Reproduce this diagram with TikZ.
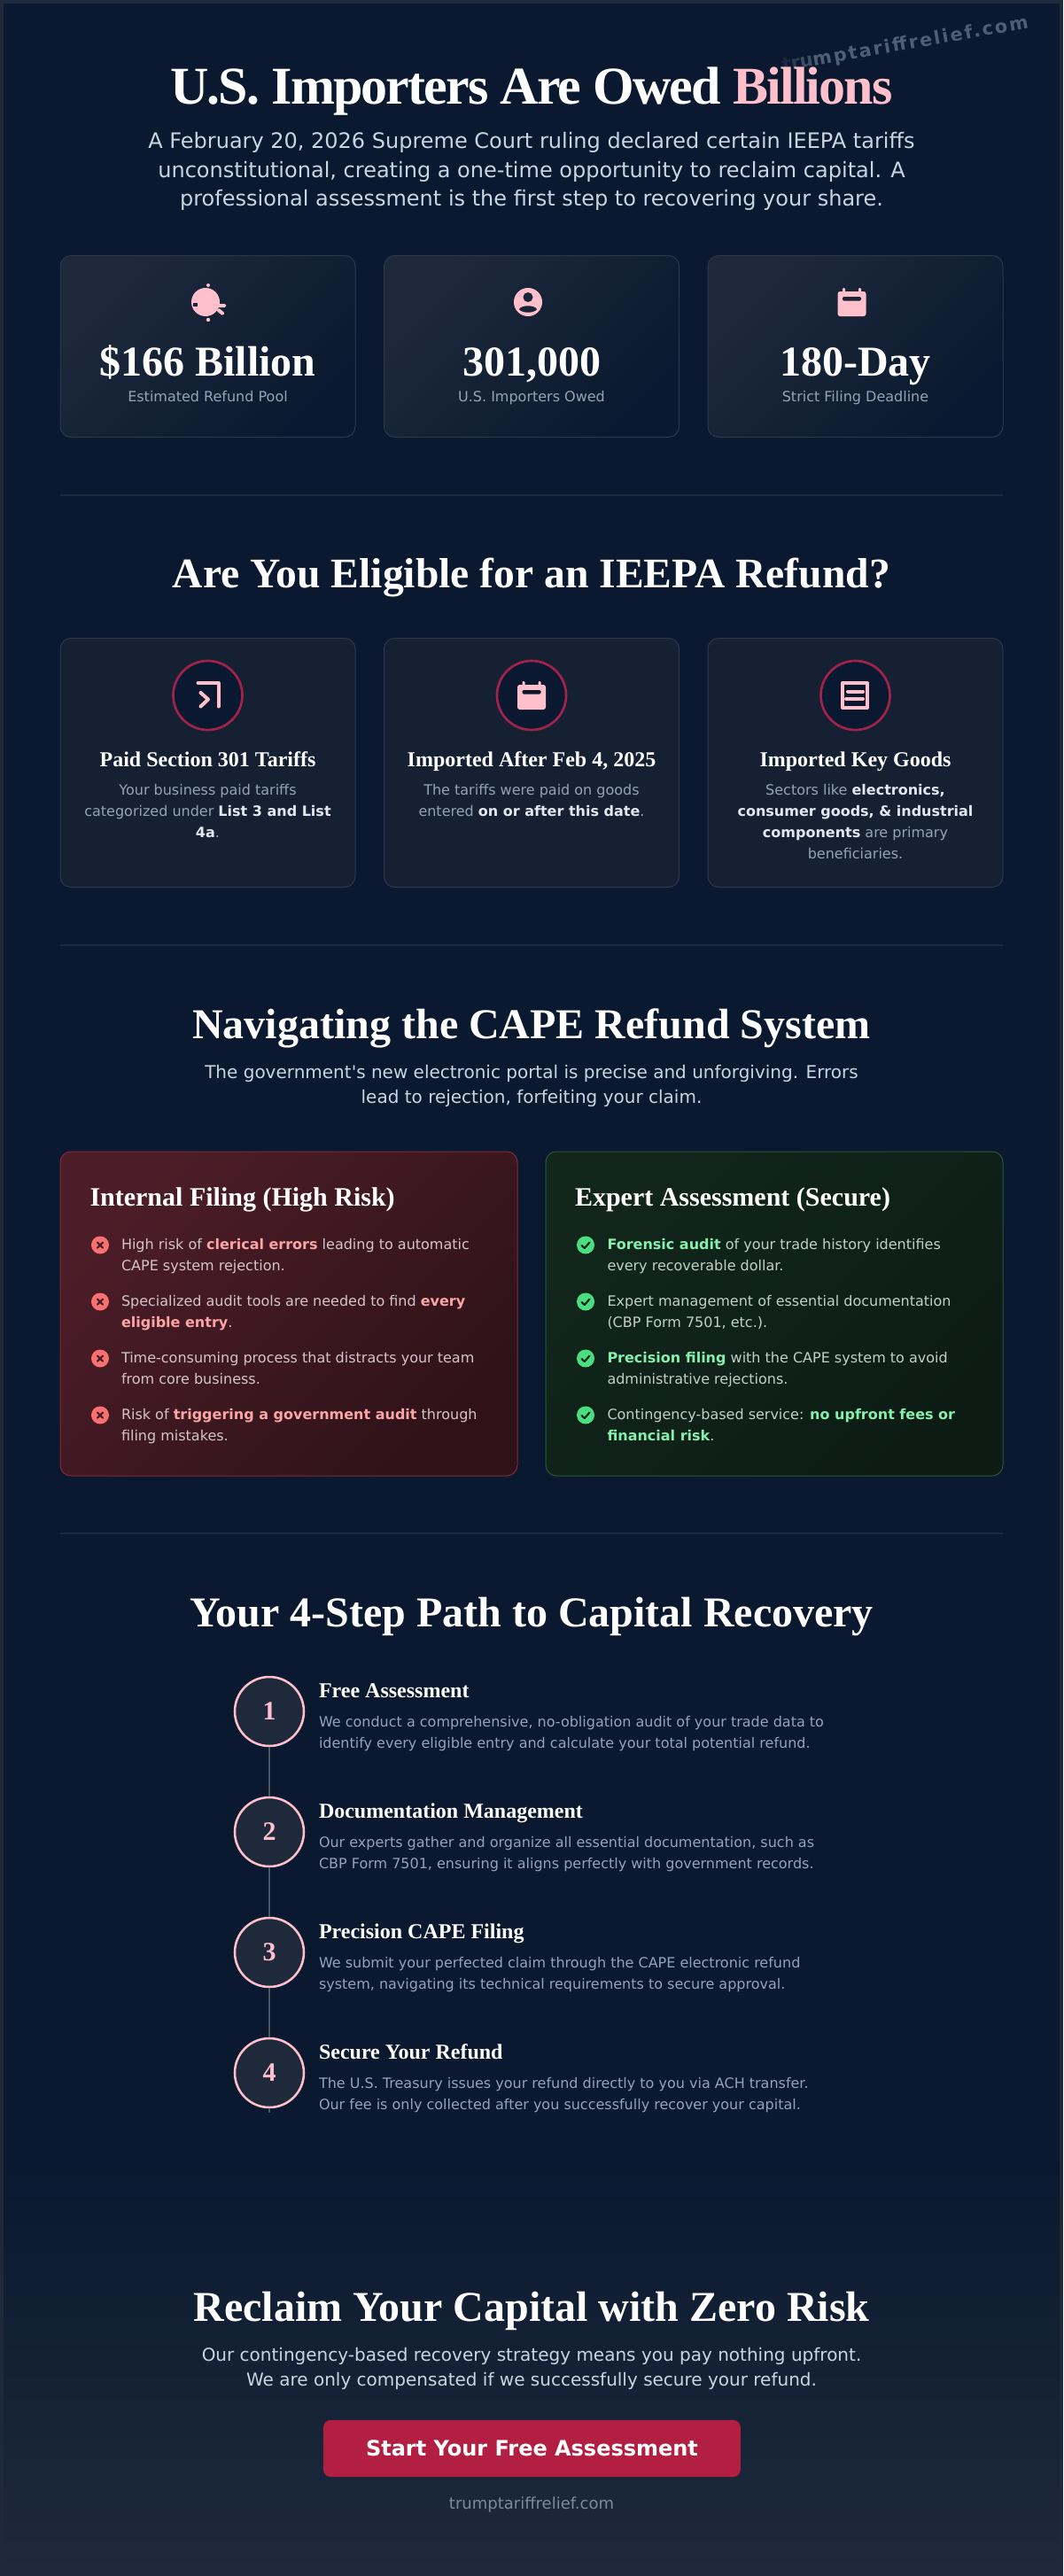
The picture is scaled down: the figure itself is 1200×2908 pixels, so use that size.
\documentclass[tikz,border=0pt]{standalone}
\usepackage{fontspec}
\setmainfont{DejaVu Sans}
\newfontfamily\plainsans{DejaVu Sans}
\newfontfamily\serifb[BoldFont={Liberation Serif Bold}]{Liberation Serif}
\usetikzlibrary{positioning,calc}
\definecolor{bgnavy}{HTML}{0A192F}
\definecolor{slate}{HTML}{1E293B}
\definecolor{pinkish}{HTML}{FFC0CB}
\definecolor{muted}{HTML}{94A3B8}
\definecolor{lightt}{HTML}{CBD5E1}
\definecolor{strongt}{HTML}{E2E8F0}
\definecolor{crimson}{HTML}{B31F42}
\definecolor{ringc}{HTML}{A3224A}
\definecolor{sitec}{HTML}{7C8A9E}
\definecolor{redb}{HTML}{F87171}
\definecolor{greenb}{HTML}{4ADE80}
\definecolor{redstrong}{HTML}{FCA5A5}
\definecolor{greenstrong}{HTML}{86EFAC}
\definecolor{statedge}{HTML}{2B384C}
\definecolor{eledge}{HTML}{2B384C}
\definecolor{elfill}{HTML}{152033}
\definecolor{steprule}{HTML}{475569}
\definecolor{iconbg}{HTML}{1A2538}
\definecolor{redframe}{HTML}{7F2A3A}
\definecolor{redtop}{HTML}{4C1D28}
\definecolor{redbot}{HTML}{2F1219}
\definecolor{greenframe}{HTML}{24583C}
\definecolor{greentop}{HTML}{12261C}
\definecolor{greenbot}{HTML}{0C1C14}
\definecolor{redtext}{HTML}{D4C5CB}
\definecolor{greentext}{HTML}{C3CFC9}
\definecolor{xmark}{HTML}{4A1C26}
\definecolor{cmark}{HTML}{12261C}
\newcommand\hi[1]{{\bfseries\color{strongt}#1}}
\newcommand\rs[1]{{\bfseries\color{redstrong}#1}}
\newcommand\gs[1]{{\bfseries\color{greenstrong}#1}}
\tikzset{
  x=0.75pt,y=-0.75pt,
  txt/.style={inner sep=0pt,outer sep=0pt,anchor=base},
  title/.style={txt,text=white,font=\serifb\bfseries\fontsize{45}{54}\selectfont\addfontfeature{LetterSpace=-3.1}},
  htwo/.style={txt,text=white,font=\serifb\bfseries\fontsize{36}{42}\selectfont},
  lead/.style={txt,align=center,text=lightt,font=\fontsize{18}{24}\selectfont},
  subp/.style={txt,align=center,text=lightt,font=\fontsize{15}{21}\selectfont},
  statcard/.style={draw=statedge,line width=0.75pt,rounded corners=9pt,left color=slate,right color=bgnavy,shading angle=45},
  statnum/.style={txt,text=white,font=\serifb\bfseries\fontsize{36}{42}\selectfont},
  statlab/.style={txt,text=muted,font=\fontsize{12}{18}\selectfont},
  elcard/.style={draw=eledge,line width=0.75pt,rounded corners=9pt,fill=elfill},
  ring/.style={circle,draw=ringc,line width=2pt,fill=bgnavy,minimum size=58.5pt,inner sep=0pt},
  cardhead/.style={txt,text=white,font=\serifb\bfseries\fontsize{18}{24}\selectfont},
  cardbody/.style={txt,align=center,text=muted,font=\fontsize{12}{18}\selectfont},
  panelhead/.style={txt,anchor=base west,text=white,font=\serifb\bfseries\fontsize{22.5}{28}\selectfont},
  listt/.style={txt,anchor=base west,align=left,font=\fontsize{12}{18}\selectfont},
  badge/.style={circle,minimum size=15pt,inner sep=0pt},
  stepc/.style={circle,draw=pinkish,line width=1.9pt,fill=slate,minimum size=58.5pt,inner sep=0pt,text=pinkish,font=\serifb\bfseries\fontsize{22.5}{28}\selectfont},
  stephead/.style={txt,anchor=base west,text=white,font=\serifb\bfseries\fontsize{18}{24}\selectfont},
  stepbody/.style={txt,anchor=base west,align=left,text=muted,font=\fontsize{12}{18}\selectfont},
  stepline/.style={draw=steprule,line width=1.5pt},
  divider/.style={draw=slate,line width=1.5pt},
  ctabtn/.style={fill=crimson,rounded corners=6pt,minimum width=353pt,minimum height=48pt,inner sep=0pt,text=white,font=\bfseries\fontsize{18}{24}\selectfont},
  sitelab/.style={txt,text=sitec,font=\fontsize{13.5}{18}\selectfont},
}
\newcommand\calendaricon[3]{%
  \begin{scope}[shift={(#1,#2)}]
    \fill[pinkish,rounded corners=2pt] (-16,-12) rectangle (16,16);
    \fill[pinkish,rounded corners=0.8pt] (-10.5,-16) rectangle (-7.5,-9);
    \fill[pinkish,rounded corners=0.8pt] (7.5,-16) rectangle (10.5,-9);
    \fill[#3,rounded corners=1pt] (-10.5,-6) rectangle (10.5,-1.5);
  \end{scope}}
\newcommand\xbadge[3]{%
  \node[badge,fill=redb] (#3) at (#1,#2) {};
  \draw[line width=1.6pt,color=xmark,line cap=round] ($(#3)+(-3,-3)$) -- ($(#3)+(3,3)$) ($(#3)+(-3,3)$) -- ($(#3)+(3,-3)$);}
\newcommand\cbadge[3]{%
  \node[badge,fill=greenb] (#3) at (#1,#2) {};
  \draw[line width=1.6pt,color=cmark,line cap=round,line join=round] ($(#3)+(-4.5,0.5)$) -- ($(#3)+(-1.2,3.5)$) -- ($(#3)+(4.5,-3)$);}
\begin{document}
\begin{tikzpicture}
\useasboundingbox (0,0) rectangle (1200,2908);
% page
\fill[slate] (0,0) rectangle (1200,2908);
\fill[bgnavy] (4,4) rectangle (1196,2904);
\shade[top color=bgnavy,bottom color=slate] (4,2440) rectangle (1196,2904);
% watermark
\node[txt,rotate=10,font=\bfseries\fontsize{15.5}{18}\selectfont\addfontfeature{LetterSpace=11}] (mark) at (1023,56)
  {{\color{muted!12!bgnavy}t}{\color{muted!25!bgnavy}r}{\color{muted!38!bgnavy}u}{\color{muted!50!bgnavy}mptariffrelief.com}};
% header
\node[title] (maintitle) at (600,118) {U.S. Importers Are Owed \textcolor{pinkish}{Billions}};
\node[lead] (leadp) at (600,232) {A February 20, 2026 Supreme Court ruling declared certain IEEPA tariffs\\unconstitutional, creating a one-time opportunity to reclaim capital. A\\professional assessment is the first step to recovering your share.};
% stat cards
\path[statcard] (68,288.5) rectangle (401,493.5);
\path[statcard] (433.5,288.5) rectangle (766.5,493.5);
\path[statcard] (799,288.5) rectangle (1132,493.5);
% globe icon
\fill[pinkish] (232,341) circle (16);
\fill[pinkish] (235,322) circle (2) (235,361) circle (2.2);
\fill[pinkish,rounded corners=1pt] (246,343) rectangle (255,347);
\fill[pinkish,rotate around={-40:(249,352)},rounded corners=1pt] (244.5,350) rectangle (253.5,354);
\fill[iconbg] (218,342) rectangle (223,346);
% user icon
\fill[pinkish] (596,341) circle (16);
\fill[iconbg] (596,335.5) circle (5.5);
\fill[iconbg] (586,349) .. controls (589,344) and (603,344) .. (606,349) .. controls (603,354) and (589,354) .. (586,349) -- cycle;
\calendaricon{961.5}{341}{iconbg}
\node[statnum] (s1) at (234.5,424) {\$166 Billion};
\node[statnum] (s2) at (600,424) {301,000};
\node[statnum] (s3) at (965.5,424) {180-Day};
\node[statlab] (l1) at (234.5,453) {Estimated Refund Pool};
\node[statlab] (l2) at (600,453) {U.S. Importers Owed};
\node[statlab] (l3) at (965.5,453) {Strict Filing Deadline};
\draw[divider] (68,559) -- (1132,559);
% eligibility
\node[htwo,font=\serifb\bfseries\fontsize{35.7}{42}\selectfont] (elig) at (600,663) {Are You Eligible for an IEEPA Refund?};
\path[elcard] (68,720.5) rectangle (401,1001.5);
\path[elcard] (433.5,720.5) rectangle (766.5,1001.5);
\path[elcard] (799,720.5) rectangle (1132,1001.5);
\node[ring] (r1) at (234.5,785) {};
\node[ring] (r2) at (600,785) {};
\node[ring] (r3) at (965.5,785) {};
\draw[pinkish,line width=3pt,line cap=round,line join=round] (223.5,771) -- (246.5,771) -- (246.5,797.5);
\draw[pinkish,line width=3pt,line cap=round,line join=round] (226.5,782) -- (235,789.5) -- (226.5,797.5);
\calendaricon{600}{785}{bgnavy}
\draw[pinkish,line width=3pt,line join=round] (951,771) rectangle (979,799);
\draw[pinkish,line width=3pt,line cap=round] (957,780.7) -- (974,780.7) (955,789) -- (974,789);
\node[cardhead] (c1) at (234.5,865) {Paid Section 301 Tariffs};
\node[cardhead] (c2) at (600,865) {Imported After Feb 4, 2025};
\node[cardhead] (c3) at (965.5,865) {Imported Key Goods};
\node[cardbody] (b1) at (234.5,945.5) {Your business paid tariffs\\categorized under \hi{List 3 and List}\\\hi{4a}.};
\node[cardbody] (b2) at (600,921.5) {The tariffs were paid on goods\\entered \hi{on or after this date}.};
\node[cardbody] (b3) at (965.5,969.5) {Sectors like \hi{electronics,}\\\hi{consumer goods, \& industrial}\\\hi{components} are primary\\beneficiaries.};
\draw[divider] (68,1067) -- (1132,1067);
% CAPE
\node[htwo] (cape) at (600,1172) {Navigating the CAPE Refund System};
\node[subp] (capep) at (600,1245) {The government{\plainsans'}s new electronic portal is precise and unforgiving. Errors\\lead to rejection, forfeiting your claim.};
\path[draw=redframe,line width=0.75pt,rounded corners=9pt,left color=redtop,right color=redbot,shading angle=45] (68,1300) rectangle (584,1666);
\path[draw=greenframe,line width=0.75pt,rounded corners=9pt,left color=greentop,right color=greenbot,shading angle=45] (616,1300) rectangle (1132,1666);
\node[panelhead] (pl) at (101.5,1361) {Internal Filing (High Risk)};
\node[panelhead] (pr) at (649,1361) {Expert Assessment (Secure)};
\xbadge{113}{1405.5}{xa}\xbadge{113}{1469.5}{xb}\xbadge{113}{1533.5}{xc}\xbadge{113}{1597.5}{xd}
\cbadge{661}{1405.5}{ca}\cbadge{661}{1469.5}{cb}\cbadge{661}{1533.5}{cc}\cbadge{661}{1597.5}{cd}
\node[listt,text=redtext] (ta) at (137,1434) {High risk of \rs{clerical errors} leading to automatic\\CAPE system rejection.};
\node[listt,text=redtext] (tb) at (137,1498) {Specialized audit tools are needed to find \rs{every}\\\rs{eligible entry}.};
\node[listt,text=redtext] (tc) at (137,1562) {Time-consuming process that distracts your team\\from core business.};
\node[listt,text=redtext] (td) at (137,1626) {Risk of \rs{triggering a government audit} through\\filing mistakes.};
\node[listt,text=greentext] (ua) at (685.5,1434) {\gs{Forensic audit} of your trade history identifies\\every recoverable dollar.};
\node[listt,text=greentext] (ub) at (685.5,1498) {Expert management of essential documentation\\(CBP Form 7501, etc.).};
\node[listt,text=greentext] (uc) at (685.5,1562) {\gs{Precision filing} with the CAPE system to avoid\\administrative rejections.};
\node[listt,text=greentext] (ud) at (685.5,1626) {Contingency-based service: \gs{no upfront fees or}\\\gs{financial risk}.};
\draw[divider] (68,1731) -- (1132,1731);
% steps
\node[htwo] (path) at (600,1836) {Your 4-Step Path to Capital Recovery};
\node[stepc] (st1) at (304,1932) {1};
\node[stepc] (st2) at (304,2068) {2};
\node[stepc] (st3) at (304,2204) {3};
\node[stepc] (st4) at (304,2340) {4};
\coordinate (stend) at (304,2385);
\draw[stepline] (st1) -- (st2);
\draw[stepline] (st2) -- (st3);
\draw[stepline] (st3) -- (st4);
\draw[stepline] (st4) -- (stend);
\node[stephead] (h1) at (360,1916) {Free Assessment};
\node[stephead] (h2) at (360,2052) {Documentation Management};
\node[stephead] (h3) at (360,2188) {Precision CAPE Filing};
\node[stephead] (h4) at (360,2324) {Secure Your Refund};
\node[stepbody] (d1) at (360,1973) {We conduct a comprehensive, no-obligation audit of your trade data to\\identify every eligible entry and calculate your total potential refund.};
\node[stepbody] (d2) at (360,2109) {Our experts gather and organize all essential documentation, such as\\CBP Form 7501, ensuring it aligns perfectly with government records.};
\node[stepbody] (d3) at (360,2245) {We submit your perfected claim through the CAPE electronic refund\\system, navigating its technical requirements to secure approval.};
\node[stepbody] (d4) at (360,2381) {The U.S. Treasury issues your refund directly to you via ACH transfer.\\Our fee is only collected after you successfully recover your capital.};
% CTA
\node[htwo] (cta) at (600,2620) {Reclaim Your Capital with Zero Risk};
\node[subp] (ctap) at (600,2693) {Our contingency-based recovery strategy means you pay nothing upfront.\\We are only compensated if we successfully secure your refund.};
\node[ctabtn] (btn) at (600.5,2764) {Start Your Free Assessment};
\node[sitelab] (site) at (600,2832) {trumptariffrelief.com};
\end{tikzpicture}
\end{document}
